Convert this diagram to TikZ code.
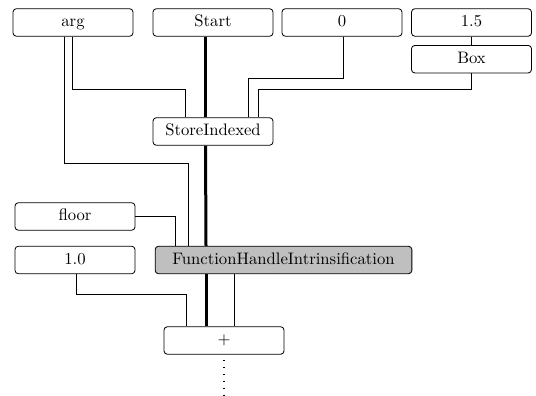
\documentclass[tikz,border=0pt]{standalone}
\usepackage{tikz}
\usetikzlibrary{calc}

\tikzset{
  blk/.style={draw, line width=0.5pt, rounded corners=2pt, minimum width=72pt,
    minimum height=16.5pt, inner sep=0pt, text height=1.6ex, text depth=0.4ex},
  wire/.style={line width=0.5pt},
  bus/.style={line width=1.8pt},
}

\begin{document}
\begin{tikzpicture}[x=0.6pt,y=-0.6pt]
    \useasboundingbox (0,0) rectangle (536,396);
    % top row
    \node[blk] (arg) at (73,22.5) {arg};
    \node[blk] (start) at (213,22.5) {Start};
    \node[blk] (zero) at (342,22.5) {0};
    \node[blk] (onefive) at (471.5,22.5) {1.5};
    \node[blk] (box) at (471.5,59.2) {Box};
    \node[blk] (si) at (213,131.5) {StoreIndexed};
    % inputs on the left
    \node[blk] (floor) at (75,216.5) {floor};
    \node[blk] (onezero) at (75,260) {1.0};
    \node[blk, fill=gray!50, minimum width=154pt] (fhi) at (283.5,260) {FunctionHandleIntrinsification};
    \node[blk] (plus) at (224,340.5) {$+$};
    \coordinate (tail) at (224,396);
    %
    \draw[bus] ($(start.south)+(-7.5,0)$) -- ($(si.north)+(-7.5,0)$);
    \draw[bus] ($(si.south)+(-7.5,0)$) -- ($(fhi.north)+(-77.5,0)$);
    \draw[bus] ($(fhi.south)+(-77.5,0)$) -- ($(plus.north)+(-18,0)$);
    %
    \draw[wire] ($(arg.south)+(-1,0)$) -- ++(0,53) -| ($(si.north)+(-28,0)$);
    \draw[wire] ($(zero.south)+(1,0)$) -- ++(0,42) -| ($(si.north)+(35,0)$);
    \draw[wire] (onefive.south) -- (box.north);
    \draw[wire] (box.south) -- ++(0,16.5) -| ($(si.north)+(45,0)$);
    %
    \draw[wire] ($(arg.south)+(-9,0)$) -- ++(0,126.5) -| ($(fhi.north)+(-95.5,0)$);
    \draw[wire] (floor.east) -| ($(fhi.north)+(-108.5,0)$);
    %
    \draw[wire] ($(fhi.south)+(-49.5,0)$) -- ($(plus.north)+(10,0)$);
    \draw[wire] ($(onezero.south)+(1,0)$) -- ++(0,20.5) -| ($(plus.north)+(-38,0)$);
    \draw[line width=0.8pt, dash pattern=on 0.8pt off 3.4pt, dash phase=-3pt] (plus.south) -- (tail);
\end{tikzpicture}
\end{document}
